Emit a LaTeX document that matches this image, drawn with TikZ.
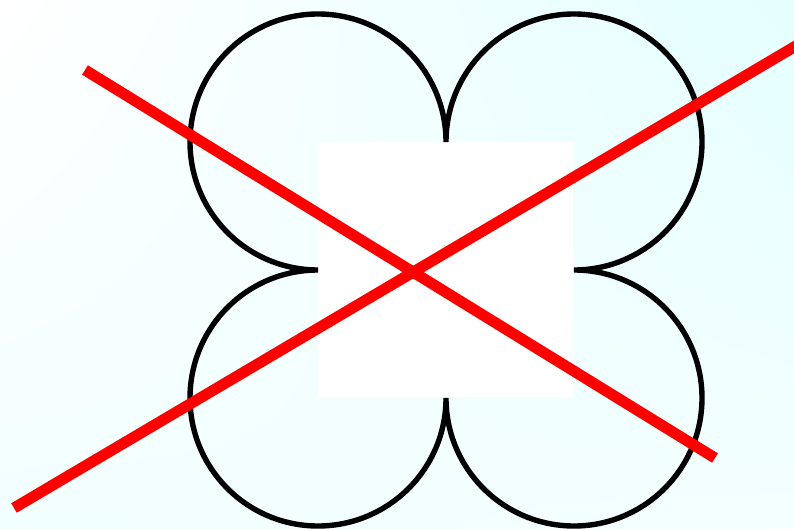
\documentclass[tikz,border=0pt]{standalone}
\usepackage{xcolor}
\usepackage{tikz}
\usetikzlibrary{positioning,shadings}
\definecolor{bgCyan}{HTML}{E4FFFF}
\definecolor{bgPale}{HTML}{F2FFFF}
\definecolor{crossRed}{HTML}{FF0000}
\tikzset{
  clover/.style={black,line width=5.4pt},
  strike/.style={crossRed,line width=11pt,line cap=butt}
}
\begin{document}
\begin{tikzpicture}[x=1pt,y=1pt]
  \useasboundingbox (0,0) rectangle (794,528);
  \clip (0,0) rectangle (794,528);
  % background
  \shade[upper left=white,upper right=bgCyan,lower left=bgPale,lower right=bgPale!80!white]
    (0,0) rectangle (794,528);
  \fill[white] (318,131) rectangle (573,386);
  % circle centres and cross ends
  \coordinate (tl) at (318,386);
  \coordinate (tr) at (573,386);
  \coordinate (bl) at (318,131);
  \coordinate (br) at (573,131);
  \coordinate (aStart) at (85,458);
  \coordinate (aEnd) at (715,70);
  \coordinate (bStart) at (14,20);
  \coordinate (bEnd) at (800,484.5);
  % four-leaf outline
  \draw[clover] ([xshift=128pt]tl) arc (0:270:128)
    arc (90:360:128) arc (180:450:128) arc (270:540:128) -- cycle;
  % cross
  \draw[strike] (aStart) -- (aEnd);
  \draw[strike] (bStart) -- (bEnd);
\end{tikzpicture}
\end{document}
